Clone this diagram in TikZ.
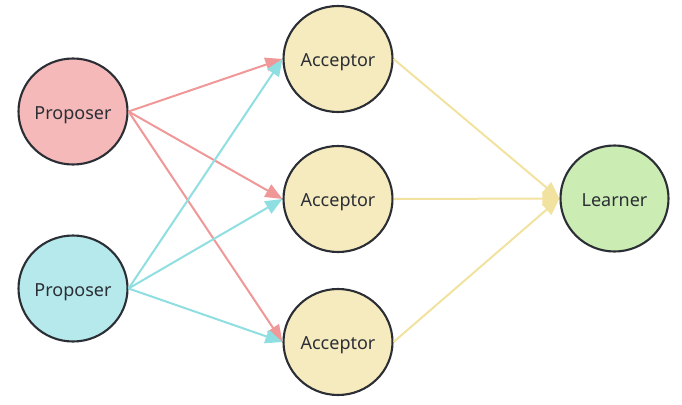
\documentclass[tikz,border=0pt]{standalone}
\usepackage{fontspec}
\setmainfont{Noto Sans}
\usetikzlibrary{arrows.meta,shapes.geometric}
\definecolor{bord}{HTML}{2B2F35}
\definecolor{pfillA}{HTML}{F5B9B9}
\definecolor{pfillB}{HTML}{B5E9EB}
\definecolor{afill}{HTML}{F6EBBF}
\definecolor{lfill}{HTML}{CBEDB4}
\definecolor{redE}{HTML}{F09797}
\definecolor{cyanE}{HTML}{8FDEE1}
\definecolor{yelE}{HTML}{F2E29F}
\tikzset{
  bubble/.style={ellipse, draw=bord, line width=2.1pt, minimum width=109pt, minimum height=106pt, inner sep=0pt, font=\fontsize{18}{21}\selectfont, text=bord, text height=15pt, text depth=0pt},
  conn/.style={line width=2pt, -{Triangle[length=17pt,width=14pt]}},
}
\begin{document}
\begin{tikzpicture}[x=1pt,y=-1pt]
\useasboundingbox (0,0) rectangle (682,404);
\node[bubble, fill=pfillA] (p1) at (73,111.5) {Proposer};
\node[bubble, fill=pfillB] (p2) at (73,288.5) {Proposer};
\node[bubble, fill=afill] (a1) at (338,59) {Acceptor};
\node[bubble, fill=afill] (a2) at (338,199) {Acceptor};
\node[bubble, fill=afill] (a3) at (338,342) {Acceptor};
\node[bubble, fill=lfill, minimum width=108pt] (l) at (614.5,198.5) {Learner};
\draw[conn, draw=redE, fill=redE] (p1.east) -- (a1.west);
\draw[conn, draw=redE, fill=redE] (p1.east) -- (a2.west);
\draw[conn, draw=redE, fill=redE] (p1.east) -- (a3.west);
\draw[conn, draw=cyanE, fill=cyanE] (p2.east) -- (a1.west);
\draw[conn, draw=cyanE, fill=cyanE] (p2.east) -- (a2.west);
\draw[conn, draw=cyanE, fill=cyanE] (p2.east) -- (a3.west);
\draw[conn, draw=yelE, fill=yelE] (a1.east) -- (l.west);
\draw[conn, draw=yelE, fill=yelE] (a2.east) -- (l.west);
\draw[conn, draw=yelE, fill=yelE] (a3.east) -- (l.west);
\end{tikzpicture}
\end{document}
